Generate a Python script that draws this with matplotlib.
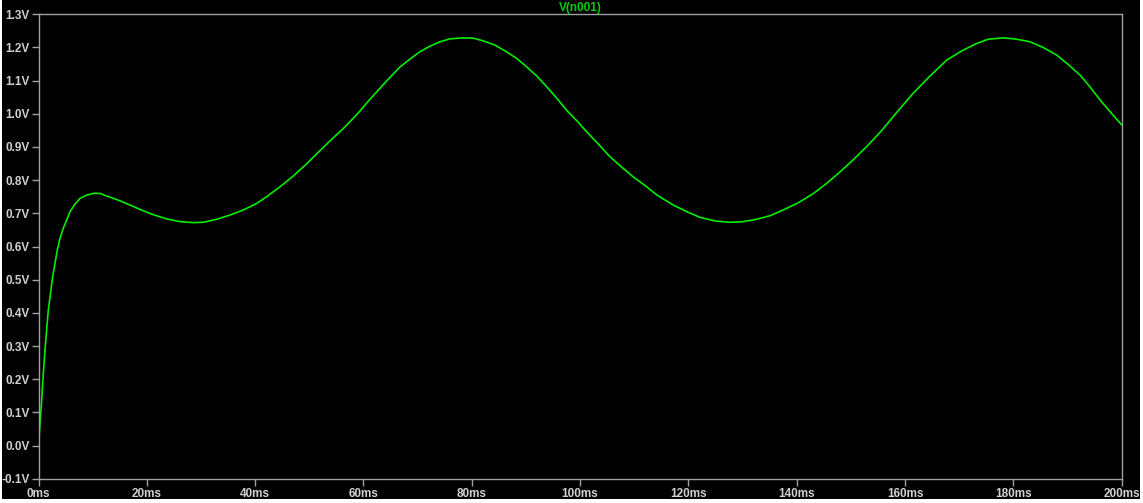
import matplotlib.pyplot as plt
from matplotlib.patches import Rectangle

# time (ms) and voltage (V)
t_ms = [0, 0.28, 0.59, 0.77, 1.2, 1.5, 1.81, 2.62, 3.47, 3.97, 4.58, 5.82,
        6.74, 7.66, 8.9, 10.1, 11.4, 12.6, 14.4, 16.9, 18.7, 21.0, 23.7,
        26.1, 28.6, 30.4, 32.9, 35.4, 37.8, 40.3, 42.1, 44.6, 47.0, 49.5,
        51.4, 53.8, 56.3, 58.8, 61.0, 63.1, 64.9, 66.8, 68.6, 70.4, 72.3,
        74.1, 76.0, 78.4, 80.3, 82.1, 84.3, 86.4, 88.3, 90.1, 92.0, 93.8,
        95.7, 97.5, 99.4, 101.2, 103.7, 105.5, 107.7, 109.8, 112.3, 114.2,
        117.2, 119.7, 122.1, 124.9, 127.7, 130.1, 132.6, 135.1, 137.5, 140.3,
        143.1, 145.5, 148.0, 150.4, 152.9, 155.6, 158.4, 161.5, 164.6, 167.7,
        170.5, 173.2, 175.4, 178.1, 180.6, 183.1, 185.5, 188.0, 190.1, 192.3,
        194.1, 196.0, 198.4, 200.0]
v_n001 = [0.0, 0.067, 0.137, 0.188, 0.288, 0.348, 0.408, 0.509, 0.589, 0.625,
          0.655, 0.705, 0.728, 0.745, 0.755, 0.760, 0.760, 0.752, 0.742, 0.725,
          0.712, 0.697, 0.683, 0.675, 0.672, 0.673, 0.682, 0.695, 0.710, 0.730,
          0.750, 0.780, 0.812, 0.849, 0.880, 0.918, 0.956, 0.998, 1.040, 1.078,
          1.110, 1.142, 1.165, 1.187, 1.204, 1.217, 1.226, 1.229, 1.228, 1.220,
          1.207, 1.187, 1.167, 1.142, 1.114, 1.082, 1.047, 1.011, 0.979, 0.946,
          0.903, 0.871, 0.839, 0.810, 0.780, 0.755, 0.725, 0.705, 0.688, 0.677,
          0.673, 0.675, 0.682, 0.693, 0.710, 0.732, 0.760, 0.790, 0.825, 0.861,
          0.901, 0.948, 1.003, 1.062, 1.114, 1.162, 1.190, 1.212, 1.225, 1.229,
          1.225, 1.217, 1.200, 1.177, 1.149, 1.117, 1.082, 1.042, 0.996, 0.967]

y_ticks = [-0.1, 0.0, 0.1, 0.2, 0.3, 0.4, 0.5, 0.6, 0.7, 0.8, 0.9, 1.0, 1.1, 1.2, 1.3]
x_ticks = [0, 20, 40, 60, 80, 100, 120, 140, 160, 180, 200]

W, H = 1143, 503
fig = plt.figure(figsize=(W / 100, H / 100), dpi=100, facecolor='white')
fig.patches.append(Rectangle((2 / W, 4 / H), 1138 / W, 1 - 4 / H,
                             transform=fig.transFigure, facecolor='black',
                             edgecolor='none', zorder=-10))

ax = fig.add_axes([38.5 / W, 24.3 / H, (1121.7 - 38.5) / W, (478.7 - 14.3) / H])
ax.set_facecolor('black')
ax.plot(t_ms, v_n001, color='#00ee00', linewidth=1.2)

ax.set_xlim(0, 200)
ax.set_ylim(-0.1, 1.3)
ax.set_xticks(x_ticks)
ax.set_xticklabels([f'{x}ms' for x in x_ticks])
ax.set_yticks(y_ticks)
ax.set_yticklabels([f'{y:.1f}V' for y in y_ticks])

gray = '#a0a0a0'
for s in ax.spines.values():
    s.set_color(gray)
    s.set_linewidth(1.0)
ax.tick_params(colors=gray, length=5, width=1.0, pad=1.5)
for lbl in ax.get_xticklabels() + ax.get_yticklabels():
    lbl.set_color('#d0d0d0')
    lbl.set_fontfamily('Liberation Sans')
    lbl.set_fontweight('bold')
    lbl.set_fontsize(8.5)

ax.set_title('V(n001)', color='#00d000', fontsize=8.5, fontweight='bold',
             fontfamily='Liberation Sans', pad=2)

fig.savefig('out.png', dpi=100, facecolor=fig.get_facecolor())
